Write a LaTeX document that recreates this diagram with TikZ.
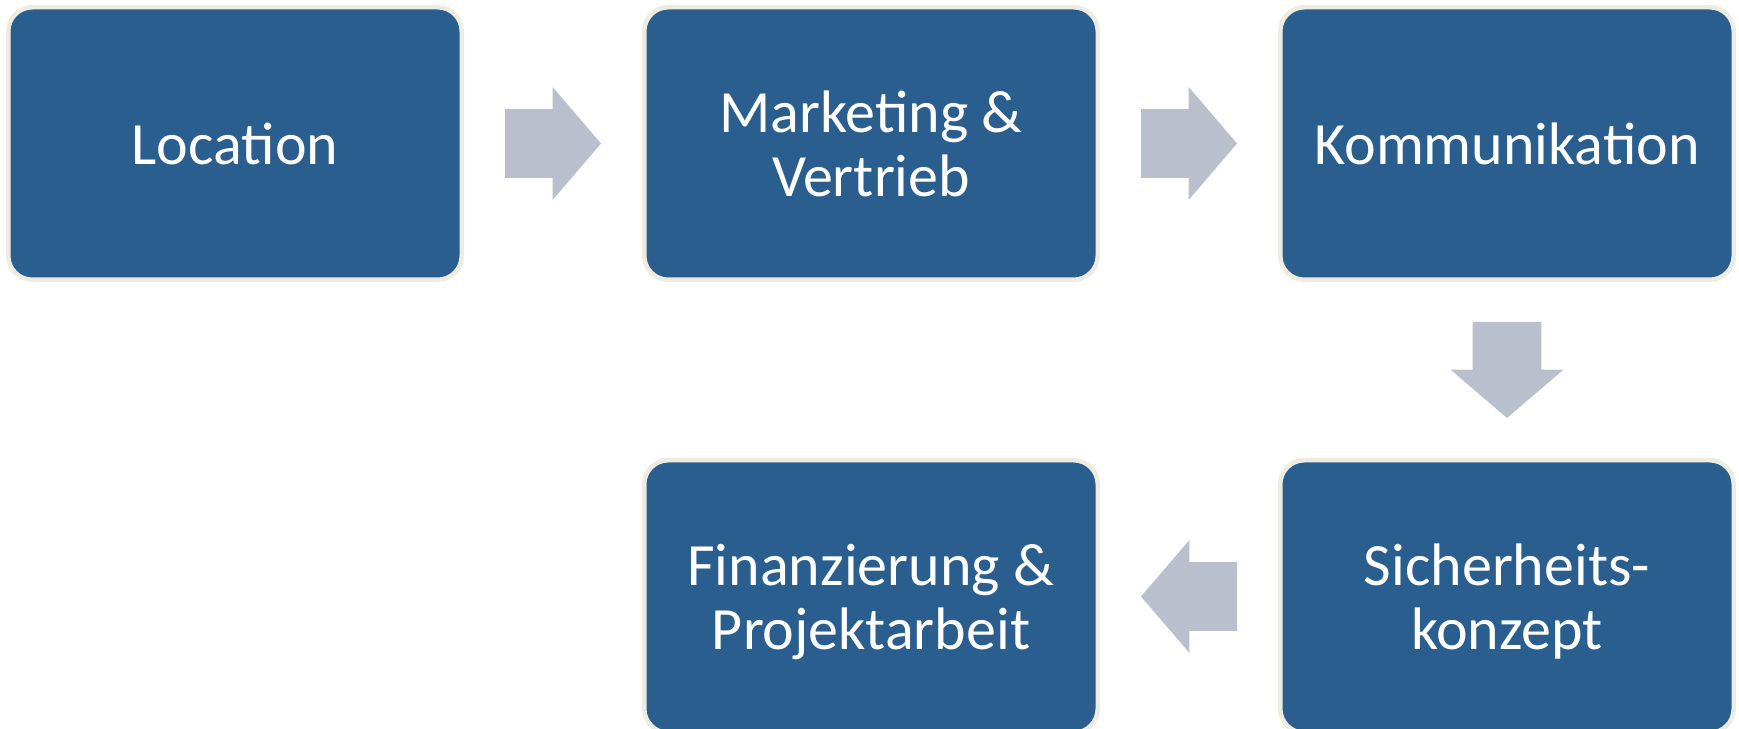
\documentclass[tikz,border=0pt]{standalone}
\usepackage{fontspec}
\setmainfont{Carlito}
\usepackage{tikz}
\usetikzlibrary{calc, positioning, shapes.arrows}
\usepackage{xcolor}
\definecolor{StepBlue}{HTML}{295E8E}
\definecolor{RimCream}{HTML}{EEECE1}
\definecolor{ArrowGrey}{HTML}{B9BFCC}
\tikzset{%
  step_block/.style={%
    rectangle,%
    rounded corners=12pt,%
    draw=RimCream,%
    line width=2.25pt,%
    fill=StepBlue,%
    text=white,%
    minimum width=226.75pt,%
    minimum height=136.25pt,%
    outer sep=0pt,%
    text depth=0pt,%
    font={\fontsize{30}{32}\selectfont},%
    align=center%
  },
  flow_arrow/.style={%
    single arrow,%
    draw=none,%
    fill=ArrowGrey,%
    inner xsep=0pt,%
    inner ysep=17pt,%
    outer sep=0pt,%
    minimum height=48pt,%
    single arrow head extend=11pt,%
    single arrow tip angle=98.8,%
    anchor=tail%
  },
  flow_arrow_down/.style={%
    flow_arrow,%
    shape border rotate=270,%
    inner xsep=17pt,%
    inner ysep=0pt%
  },
}

\begin{document}
\begin{tikzpicture}

    \useasboundingbox (0,0) rectangle (869.5pt,364pt);
    \clip (0,0) rectangle (869.5pt,364pt);

    \node [step_block] (Location) at (117.5pt,292.25pt) {Location};
    \node [step_block, right = 91.25pt of Location] (Marketing) {Marketing \&\\Vertrieb};
    \node [step_block, right = 91.25pt of Marketing] (Kommunikation) {Kommunikation};
    \node [step_block, below = 90.25pt of Kommunikation] (Sicherheit) {Sicherheits-\\konzept};
    \node [step_block, left = 91.25pt of Sicherheit] (Finanzierung) {Finanzierung \&\\Projektarbeit};

    \node [flow_arrow]
      at ($(Location.east)!0.5!(Marketing.west) + (-24pt,0)$) (LocToMkt) {};
    \node [flow_arrow]
      at ($(Marketing.east)!0.5!(Kommunikation.west) + (-24pt,0)$) (MktToKom) {};
    \node [flow_arrow_down]
      at ($(Kommunikation.south)!0.5!(Sicherheit.north) + (0,24pt)$) (KomToSich) {};
    \node [flow_arrow, shape border rotate=180]
      at ($(Sicherheit.west)!0.5!(Finanzierung.east) + (24pt,0)$) (SichToFin) {};
  \end{tikzpicture}
\end{document}
